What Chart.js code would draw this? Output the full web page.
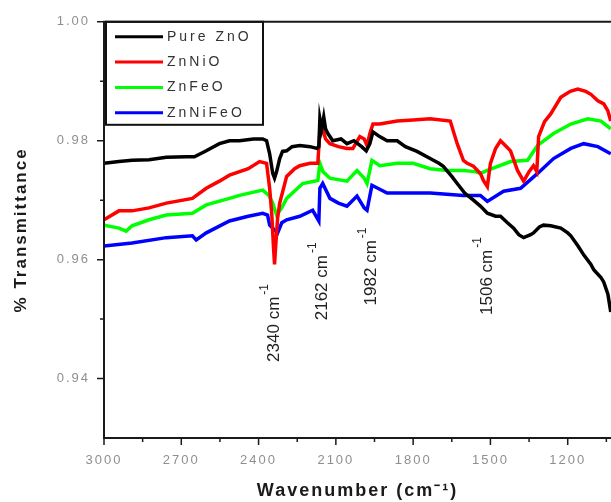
<!DOCTYPE html>
<html>
<head>
<meta charset="utf-8">
<script src="https://cdn.jsdelivr.net/npm/chart.js@4"></script>
<style>
  html, body { margin: 0; padding: 0; background: #fff; }
  canvas { display: block; }
</style>
</head>
<body>
<canvas id="ftir" width="611" height="502"></canvas>
<script>
// FTIR spectra, wavenumber (cm-1) vs transmittance
const seriesNames = ["Pure ZnO", "ZnNiO", "ZnFeO", "ZnNiFeO"];
const seriesColors = ["#000000", "#ff0000", "#00ff00", "#0000ff"];

const wnPure = [3000,2942,2891,2825,2758,2680,2649,2603,2552,2513,2474,2420,2384,2369,2357,2345,2338,2330,2318,2307,2291,2270,2240,2200,2174,2166,2162,2155,2147,2140,2131,2112,2080,2057,2030,2000,1982,1968,1956,1930,1901,1862,1830,1785,1734,1700,1683,1650,1629,1600,1566,1539,1512,1480,1461,1434,1410,1390,1371,1344,1333,1310,1294,1266,1227,1200,1188,1160,1138,1110,1099,1071,1060,1044,1033];
const tPure = [0.9762,0.9765,0.9767,0.9768,0.9772,0.9773,0.9773,0.9783,0.9795,0.9800,0.9800,0.9803,0.9803,0.9800,0.9778,0.9745,0.9737,0.9748,0.9770,0.9782,0.9783,0.9790,0.9792,0.9790,0.9787,0.9790,0.9837,0.9820,0.9840,0.9820,0.9812,0.9800,0.9803,0.9795,0.9800,0.9790,0.9783,0.9795,0.9815,0.9807,0.9800,0.9800,0.9790,0.9782,0.9770,0.9762,0.9757,0.9740,0.9728,0.9712,0.9700,0.9690,0.9678,0.9673,0.9673,0.9662,0.9653,0.9642,0.9637,0.9642,0.9645,0.9655,0.9658,0.9657,0.9653,0.9645,0.9640,0.9623,0.9608,0.9592,0.9583,0.9570,0.9562,0.9542,0.9512];

const wnNi = [3000,2942,2891,2825,2758,2657,2603,2552,2513,2440,2396,2369,2357,2349,2342,2338,2334,2326,2318,2291,2260,2240,2200,2170,2162,2151,2140,2123,2090,2057,2034,2007,1990,1979,1968,1956,1930,1862,1800,1734,1656,1629,1605,1590,1566,1539,1527,1512,1500,1480,1461,1449,1422,1395,1371,1350,1333,1320,1313,1290,1266,1227,1190,1161,1130,1110,1083,1060,1044,1033];
const tNi = [0.9667,0.9682,0.9682,0.9687,0.9695,0.9703,0.9720,0.9732,0.9742,0.9753,0.9765,0.9762,0.9720,0.9678,0.9620,0.9592,0.9620,0.9670,0.9695,0.9740,0.9753,0.9758,0.9762,0.9762,0.9817,0.9820,0.9803,0.9795,0.9790,0.9787,0.9787,0.9807,0.9803,0.9792,0.9812,0.9828,0.9828,0.9833,0.9835,0.9837,0.9833,0.9795,0.9767,0.9762,0.9757,0.9745,0.9733,0.9723,0.9762,0.9787,0.9800,0.9795,0.9783,0.9750,0.9732,0.9748,0.9758,0.9748,0.9807,0.9832,0.9845,0.9873,0.9883,0.9887,0.9883,0.9878,0.9867,0.9862,0.9850,0.9833];

const wnFe = [3000,2942,2914,2891,2825,2758,2657,2603,2513,2474,2384,2360,2345,2330,2310,2291,2229,2170,2162,2150,2123,2057,2018,1990,1979,1960,1929,1862,1800,1734,1668,1605,1560,1539,1512,1422,1356,1317,1255,1188,1122,1071,1033];
const tFe = [0.9658,0.9653,0.9648,0.9657,0.9667,0.9675,0.9678,0.9692,0.9703,0.9708,0.9717,0.9708,0.9695,0.9675,0.9687,0.9703,0.9728,0.9733,0.9762,0.9748,0.9737,0.9732,0.9750,0.9737,0.9728,0.9767,0.9758,0.9762,0.9762,0.9753,0.9750,0.9750,0.9748,0.9745,0.9750,0.9765,0.9767,0.9792,0.9812,0.9828,0.9837,0.9833,0.9820];

const wnNiFe = [3000,2891,2758,2657,2642,2603,2513,2440,2384,2365,2357,2338,2326,2310,2291,2240,2190,2166,2162,2151,2123,2090,2057,2018,1990,1979,1960,1901,1800,1734,1605,1539,1512,1449,1383,1317,1255,1188,1138,1083,1033];
const tNiFe = [0.9623,0.9628,0.9637,0.9640,0.9633,0.9645,0.9665,0.9673,0.9678,0.9675,0.9658,0.9650,0.9645,0.9662,0.9667,0.9673,0.9683,0.9665,0.9720,0.9728,0.9703,0.9695,0.9690,0.9707,0.9687,0.9683,0.9725,0.9712,0.9712,0.9712,0.9708,0.9708,0.9698,0.9715,0.9720,0.9745,0.9770,0.9787,0.9795,0.9790,0.9778];

const xMajor = [3000, 2700, 2400, 2100, 1800, 1500, 1200];
const xMinor = [2850, 2550, 2250, 1950, 1650, 1350, 1050];
const yMajor = [1.00, 0.98, 0.96, 0.94];
const yMinor = [0.99, 0.97, 0.95];

// marked absorption bands
const peakWn = [2340, 2162, 1982, 1506];
const peakLabelY = [0.9428, 0.9498, 0.9523, 0.9507];
const peakLabelDx = [0, 2, 5, -2];

const FONT = "'Liberation Sans', Arial, sans-serif";

const allWn = [wnPure, wnNi, wnFe, wnNiFe];
const allT = [tPure, tNi, tFe, tNiFe];

const datasets = seriesNames.map((name, i) => ({
  label: name,
  data: allWn[i].map((w, j) => ({ x: w, y: allT[i][j] })),
  borderColor: seriesColors[i],
  backgroundColor: seriesColors[i],
  borderWidth: 3.5,
  pointRadius: 0,
  tension: 0,
  fill: false
}));

// spaced-out lettering for the axis text, plain for the rest
const spacing = {
  id: "spacing",
  beforeDraw(chart) { chart.ctx.letterSpacing = "2px"; },
  beforeDatasetsDraw(chart) { chart.ctx.letterSpacing = "0px"; }
};

const frame = {
  id: "frame",
  afterDatasetsDraw(chart) {
    const { ctx, chartArea: a, scales: { x, y } } = chart;
    ctx.save();
    ctx.letterSpacing = "0px";
    ctx.strokeStyle = "#1a1a1a";
    ctx.lineWidth = 2;
    ctx.beginPath();
    ctx.moveTo(a.right, a.top);
    ctx.lineTo(a.left, a.top);
    ctx.lineTo(a.left, a.bottom);
    ctx.lineTo(a.right, a.bottom);
    ctx.stroke();

    ctx.lineWidth = 1.5;
    ctx.beginPath();
    xMajor.forEach(v => { const px = x.getPixelForValue(v); ctx.moveTo(px, a.bottom); ctx.lineTo(px, a.bottom + 7); });
    xMinor.forEach(v => { const px = x.getPixelForValue(v); ctx.moveTo(px, a.bottom); ctx.lineTo(px, a.bottom + 4); });
    yMajor.forEach(v => { const py = y.getPixelForValue(v); ctx.moveTo(a.left, py); ctx.lineTo(a.left - 7, py); });
    yMinor.forEach(v => { const py = y.getPixelForValue(v); ctx.moveTo(a.left, py); ctx.lineTo(a.left - 4, py); });
    ctx.stroke();

    // legend box in the top-left corner
    ctx.lineWidth = 2;
    ctx.strokeStyle = "#111";
    ctx.strokeRect(a.left + 2, a.top, 157, 103);
    ctx.font = "14px " + FONT;
    ctx.textBaseline = "middle";
    ctx.textAlign = "left";
    chart.data.datasets.forEach((ds, i) => {
      const ly = a.top + 15 + i * 25.3;
      ctx.strokeStyle = ds.borderColor;
      ctx.lineWidth = 3;
      ctx.beginPath();
      ctx.moveTo(a.left + 11, ly);
      ctx.lineTo(a.left + 59, ly);
      ctx.stroke();
      ctx.fillStyle = "#333";
      ctx.letterSpacing = "3px";
      ctx.fillText(ds.label, a.left + 63, ly);
    });
    ctx.letterSpacing = "0px";

    // band labels, written upwards
    ctx.fillStyle = "#222";
    peakWn.forEach((wn, i) => {
      const px = x.getPixelForValue(wn) + peakLabelDx[i];
      const py = y.getPixelForValue(peakLabelY[i]);
      ctx.save();
      ctx.translate(px, py);
      ctx.rotate(-Math.PI / 2);
      ctx.font = "17px " + FONT;
      const txt = wn + " cm";
      ctx.fillText(txt, 0, 0);
      const w = ctx.measureText(txt).width;
      ctx.font = "12px " + FONT;
      ctx.fillText("-1", w + 2, -9);
      ctx.restore();
    });
    ctx.restore();
  }
};

new Chart(document.getElementById("ftir"), {
  type: "line",
  data: { datasets },
  plugins: [spacing, frame],
  options: {
    responsive: false,
    animation: false,
    devicePixelRatio: 1,
    layout: { padding: { top: 17, left: 0, right: 0, bottom: 0 } },
    plugins: { legend: { display: false }, tooltip: { enabled: false } },
    scales: {
      x: {
        type: "linear",
        reverse: true,
        min: 1032,
        max: 3000,
        grid: { display: false, drawTicks: false },
        border: { display: false },
        afterBuildTicks: s => { s.ticks = xMajor.map(v => ({ value: v })); },
        afterFit: s => { s.height = 64; },
        ticks: {
          autoSkip: false, maxRotation: 0, padding: 15,
          color: "#8f8f8f", font: { family: FONT, size: 13 },
          callback: v => String(v)
        },
        title: {
          display: true, text: "Wavenumber (cm\u207B\u00B9)",
          color: "#1a1a1a", font: { family: FONT, size: 18, weight: "bold" },
          padding: { top: 0, bottom: 0 }
        }
      },
      y: {
        min: 0.93,
        max: 1.00,
        grid: { display: false, drawTicks: false },
        border: { display: false },
        afterBuildTicks: s => { s.ticks = yMajor.map(v => ({ value: v })); },
        afterFit: s => { s.width = 104; },
        ticks: {
          padding: 14, color: "#8f8f8f", font: { family: FONT, size: 13 },
          callback: v => v.toFixed(2)
        },
        title: {
          display: true, text: "% Transmittance",
          color: "#1a1a1a", font: { family: FONT, size: 17, weight: "bold" },
          padding: { top: 11, bottom: 0 }
        }
      }
    }
  }
});
</script>
</body>
</html>
